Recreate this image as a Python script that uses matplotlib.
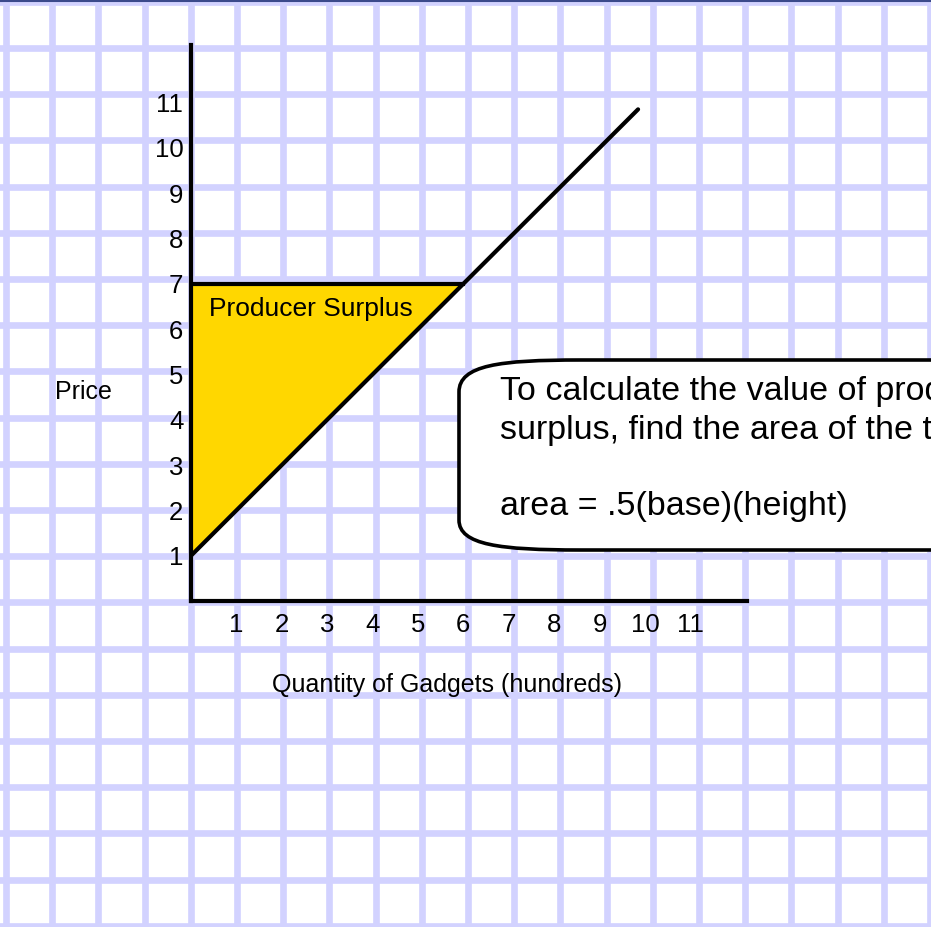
import numpy as np
import matplotlib.pyplot as plt
from matplotlib.path import Path
from matplotlib.patches import PathPatch

plt.rcParams['font.family'] = ['Liberation Sans', 'DejaVu Sans']

# supply curve (quantity in hundreds, price)
supply_q = [0, 9.85]
supply_p = [1, 10.85]

# producer surplus triangle at equilibrium q=6, p=7
eq_q = 6
eq_p = 7
surplus_q = [0, 0, eq_q]
surplus_p = [1, eq_p, eq_p]

x_ticks = list(range(1, 12))
y_ticks = list(range(1, 12))

# the note runs off the right edge, as in the original slide
note_lines = [
    'To calculate the value of producer',
    'surplus, find the area of the triangle.',
    'area = .5(base)(height)',
]

W, H = 931, 927
fig = plt.figure(figsize=(W / 100, H / 100), dpi=100)

# graph paper background, in pixels
bg = fig.add_axes([0, 0, 1, 1], zorder=0)
bg.set_xlim(0, W)
bg.set_ylim(H, 0)
bg.axis('off')
grid_c = '#D2D2FF'
for gx in 6 + 46.2 * np.arange(21):
    bg.axvline(gx, color=grid_c, lw=4.8, zorder=1)
for gy in 1.8 + 46.2 * np.arange(21):
    bg.axhline(gy, color=grid_c, lw=4.8, zorder=1)
bg.axhline(0.5, color='#3B4A8C', lw=1.5, zorder=2)

# callout box with curved left corners
verts = [(985, 360), (580, 360), (500, 360), (459, 365), (459, 392),
         (459, 520), (459, 545), (500, 550), (580, 550), (985, 550), (985, 360)]
codes = [Path.MOVETO, Path.LINETO, Path.CURVE4, Path.CURVE4, Path.CURVE4,
         Path.LINETO, Path.CURVE4, Path.CURVE4, Path.CURVE4, Path.LINETO, Path.CLOSEPOLY]
bg.add_patch(PathPatch(Path(verts, codes), facecolor='white', edgecolor='black',
                       lw=2.6, zorder=3, clip_on=False))
for txt, base in zip(note_lines, [400, 439, 515]):
    bg.text(500, base, txt, fontsize=24.5, va='baseline', ha='left', zorder=4)

# main chart
ax = fig.add_axes([191 / W, (H - 601) / H, 556 / W, 556 / H], zorder=1)
ax.set_facecolor('none')
ax.set_xlim(0, 12.25)
ax.set_ylim(0, 12.27)
for s in ['top', 'right']:
    ax.spines[s].set_visible(False)
for s in ['left', 'bottom']:
    ax.spines[s].set_linewidth(3)
    ax.spines[s].set_capstyle('projecting')

ax.set_xticks(x_ticks)
ax.set_yticks(y_ticks)
ax.tick_params(axis='both', length=0, labelsize=18.5)
ax.tick_params(axis='x', pad=9)
ax.tick_params(axis='y', pad=5.5)

ax.fill(surplus_q, surplus_p, color='#FFD700', zorder=2)
ax.plot([0, eq_q], [eq_p, eq_p], color='black', lw=3, zorder=3)
ax.plot(supply_q, supply_p, color='black', lw=3, solid_capstyle='round', zorder=3)

ax.text(0.4, 6.29, 'Producer Surplus', fontsize=19, va='baseline', ha='left')

ax.set_ylabel('Price', rotation=0, fontsize=18, ha='center', va='center')
ax.yaxis.set_label_coords(-0.194, 0.376)
ax.set_xlabel('Quantity of Gadgets (hundreds)', fontsize=18, ha='center', va='center')
ax.xaxis.set_label_coords(0.46, -0.151)

fig.savefig('out.png', dpi=100)
